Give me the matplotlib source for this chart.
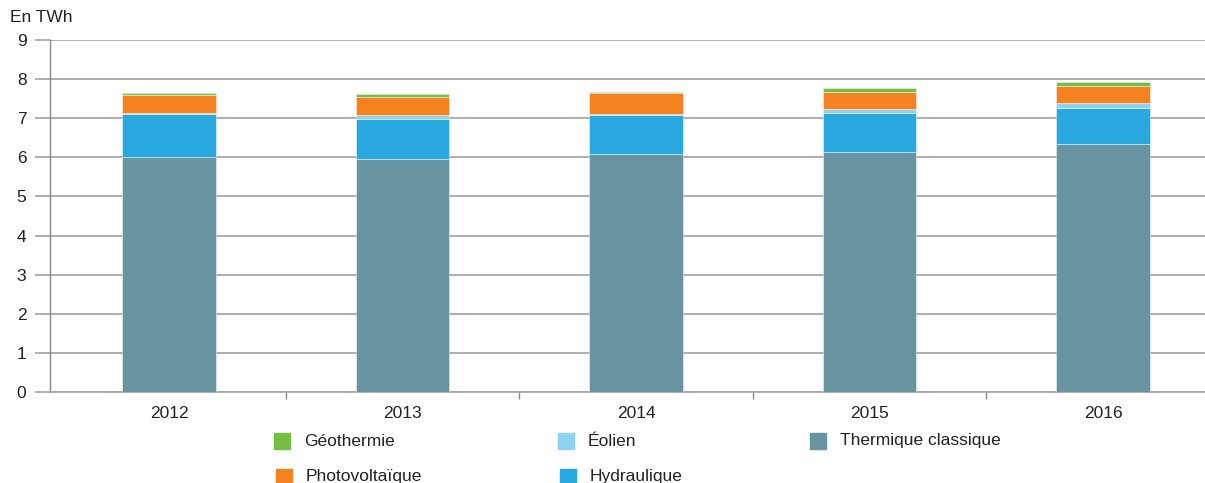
import matplotlib
matplotlib.use("Agg")
import matplotlib.pyplot as plt
from matplotlib.patches import Rectangle
import numpy as np

plt.rcParams['font.family'] = ['Liberation Sans', 'DejaVu Sans']

years = ["2012", "2013", "2014", "2015", "2016"]
thermique = [6.00, 5.95, 6.09, 6.14, 6.34]
hydraulique = [1.11, 1.03, 0.98, 0.99, 0.93]
eolien = [0.03, 0.10, 0.05, 0.10, 0.11]
photovoltaique = [0.45, 0.45, 0.52, 0.45, 0.45]
geothermie = [0.05, 0.10, 0.04, 0.10, 0.10]

series = [
    ("Thermique classique", thermique, "#6893a0"),
    ("Hydraulique", hydraulique, "#29a8e0"),
    ("Éolien", eolien, "#8fd3f3"),
    ("Photovoltaïque", photovoltaique, "#f58220"),
    ("Géothermie", geothermie, "#72bf44"),
]

W, H = 1205, 483
fig = plt.figure(figsize=(W / 100, H / 100), dpi=100)
ax = fig.add_axes([50 / W, 1 - 392 / H, (W - 50) / W, (392 - 40) / H])

x = np.arange(len(years))
bottom = np.zeros(len(years))
for name, vals, col in series:
    ax.bar(x, vals, width=0.40, bottom=bottom, color=col,
           edgecolor=(1, 1, 1, 0.5), linewidth=0.6, zorder=3)
    bottom += np.array(vals)

grid_col = "#a8a8a8"
ax.set_ylim(0, 9)
ax.set_xlim(-0.5096, 4.437)
ax.set_yticks(range(10))
ax.yaxis.grid(True, color=grid_col, linewidth=1.3, zorder=0)
ax.set_axisbelow(True)
for s in ["top", "right"]:
    ax.spines[s].set_visible(False)
ax.spines["left"].set_color("#888888")
ax.spines["left"].set_linewidth(1.0)
ax.spines["bottom"].set_color(grid_col)
ax.spines["bottom"].set_linewidth(1.3)
ax.tick_params(axis="y", length=11, color=grid_col, width=1.3,
               labelsize=12.5, labelcolor="#222222", pad=6)
ax.set_xticks(np.arange(0.5, len(years) - 0.5, 1.0))
ax.set_xticklabels([])
ax.set_xticks(x, minor=True)
ax.set_xticklabels(years, minor=True)
ax.tick_params(axis="x", which="major", length=5, color="#888888", width=1.0)
ax.tick_params(axis="x", which="minor", length=0, labelsize=12.5,
               labelcolor="#222222", pad=10)

fig.text(10 / W, 1 - 18 / H, "En TWh", fontsize=12.5, color="#222222",
         va="center", ha="left")

legend_items = [
    ("Géothermie", "#72bf44", 274, 441),
    ("Éolien", "#8fd3f3", 558, 441),
    ("Thermique classique", "#6893a0", 810, 441),
    ("Photovoltaïque", "#f58220", 276, 477),
    ("Hydraulique", "#29a8e0", 560, 477),
]
for name, col, px, py in legend_items:
    fig.patches.append(Rectangle((px / W, 1 - (py + 8) / H), 16 / W, 16 / H,
                                 transform=fig.transFigure, color=col))
    fig.text((px + 30) / W, 1 - py / H, name, fontsize=12.5, color="#222222",
             va="center", ha="left")

fig.savefig("out.png", dpi=100)
